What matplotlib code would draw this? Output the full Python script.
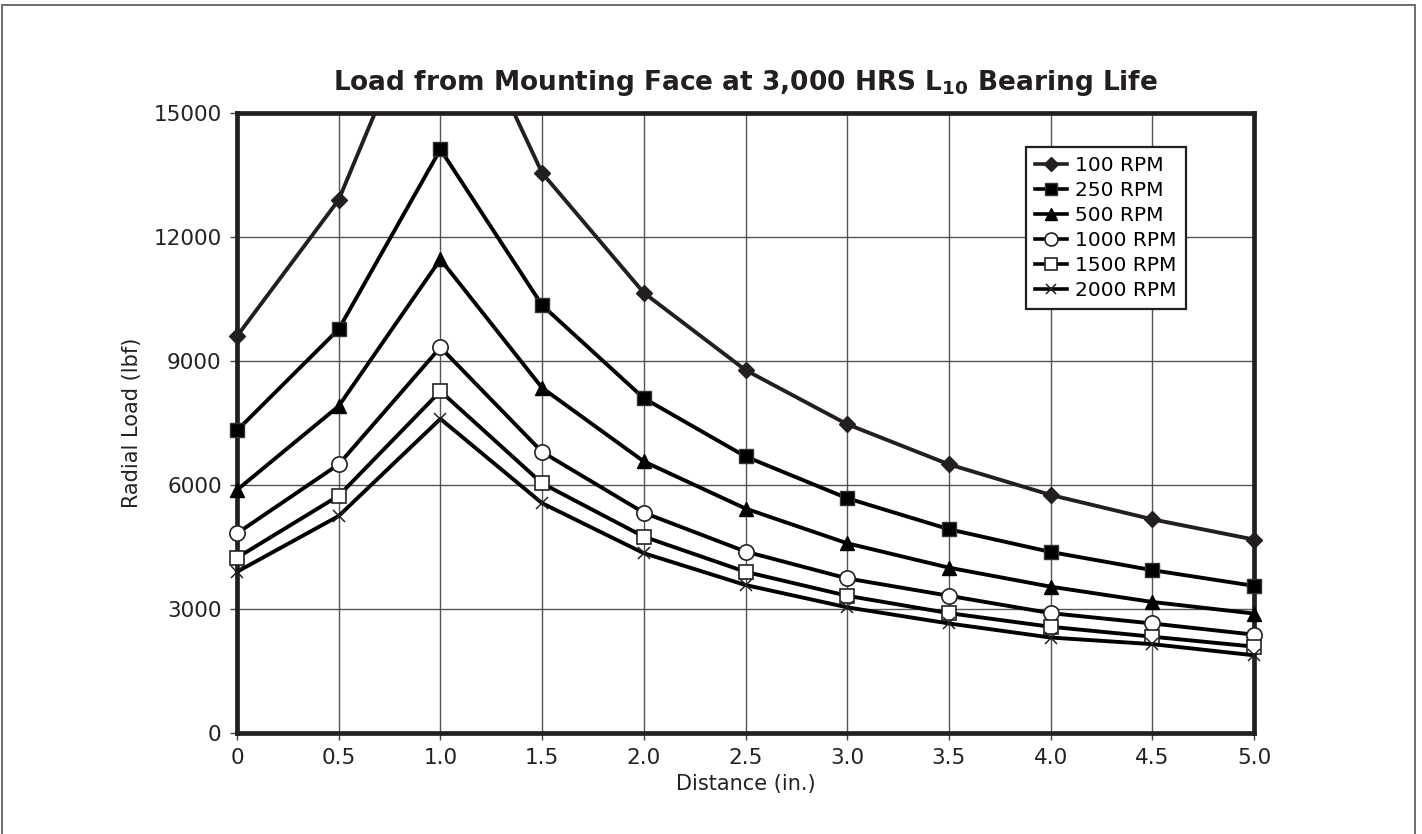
import matplotlib.pyplot as plt
from matplotlib.patches import Rectangle

# Data
distance = [0, 0.5, 1.0, 1.5, 2.0, 2.5, 3.0, 3.5, 4.0, 4.5, 5.0]
rpm_100 = [9600, 12900, 18800, 13550, 10650, 8780, 7470, 6500, 5760, 5170, 4680]
rpm_250 = [7320, 9770, 14120, 10350, 8100, 6690, 5680, 4930, 4380, 3940, 3560]
rpm_500 = [5880, 7910, 11460, 8350, 6570, 5430, 4590, 4000, 3540, 3170, 2890]
rpm_1000 = [4830, 6500, 9330, 6800, 5330, 4390, 3740, 3320, 2900, 2650, 2380]
rpm_1500 = [4240, 5740, 8270, 6040, 4750, 3900, 3320, 2900, 2570, 2330, 2090]
rpm_2000 = [3900, 5250, 7600, 5560, 4350, 3580, 3040, 2650, 2310, 2150, 1880]

labels = ['100 RPM', '250 RPM', '500 RPM', '1000 RPM', '1500 RPM', '2000 RPM']
x_ticks = [0, 0.5, 1.0, 1.5, 2.0, 2.5, 3.0, 3.5, 4.0, 4.5, 5.0]
x_ticklabels = ['0', '0.5', '1.0', '1.5', '2.0', '2.5', '3.0', '3.5', '4.0', '4.5', '5.0']
y_ticks = [0, 3000, 6000, 9000, 12000, 15000]

plt.rcParams['font.family'] = ['DejaVu Sans']
plt.rcParams['mathtext.fontset'] = 'dejavusans'

fig = plt.figure(figsize=(14.22, 8.34), dpi=100)
ax = fig.add_axes([237 / 1422, 101 / 834, 1017 / 1422, 620 / 834])

# outer frame around the whole picture
frame = Rectangle((2 / 1422, -0.01), 1413 / 1422, 1.0 - 5 / 834 + 0.01,
                  transform=fig.transFigure, fill=False, edgecolor='#555555',
                  linewidth=1.2)
fig.patches.append(frame)

series = [rpm_100, rpm_250, rpm_500, rpm_1000, rpm_1500, rpm_2000]
styles = [
    dict(marker='D', markersize=8, markerfacecolor='#231f20', markeredgecolor='#231f20'),
    dict(marker='s', markersize=10.5, markerfacecolor='black', markeredgecolor='#333333'),
    dict(marker='^', markersize=10, markerfacecolor='black', markeredgecolor='black'),
    dict(marker='o', markersize=11, markerfacecolor='white', markeredgecolor='#222222', markeredgewidth=1.2),
    dict(marker='s', markersize=10.5, markerfacecolor='white', markeredgecolor='#222222', markeredgewidth=1.2),
    dict(marker='x', markersize=9, markeredgecolor='#222222', markeredgewidth=1.1),
]
line_colors = ['#231f20', 'black', 'black', 'black', 'black', 'black']

# clip vertically to the axes, but let markers at the edges spill over sideways
clip = Rectangle((-0.05, 0), 1.1, 1.0, transform=ax.transAxes)
for vals, lab, st, c in zip(series, labels, styles, line_colors):
    ln, = ax.plot(distance, vals, color=c, linewidth=2.8, label=lab, zorder=3, **st)
    ln.set_clip_path(clip)

ax.set_xlim(0, 5.0)
ax.set_ylim(0, 15000)
ax.set_xticks(x_ticks)
ax.set_xticklabels(x_ticklabels)
ax.set_yticks(y_ticks)
ax.tick_params(labelsize=15.5, length=5, width=1, color='#444444', pad=6,
               labelcolor='#222222')
ax.grid(True, color='#555555', linewidth=1.0)
ax.set_axisbelow(True)
for s in ax.spines.values():
    s.set_linewidth(3.4)
    s.set_color('#231f20')

ax.set_xlabel('Distance (in.)', fontsize=15, color='#222222', labelpad=4)
ax.set_ylabel('Radial Load (lbf)', fontsize=15, color='#222222', labelpad=8)

fig.text(0.5245, 0.90,
         r'Load from Mounting Face at 3,000 HRS L$_{\mathbf{10}}$ Bearing Life',
         ha='center', va='center', fontsize=19, fontweight='bold', color='#231f20')

leg = ax.legend(loc='upper right', bbox_to_anchor=(0.933, 0.945), fontsize=14.5,
                frameon=True, fancybox=False, edgecolor='#231f20', framealpha=1,
                handlelength=1.6, labelspacing=0.3, borderpad=0.45,
                handletextpad=0.4, borderaxespad=0)
leg.get_frame().set_linewidth(1.6)
for h in leg.legend_handles:
    h.set_linewidth(2.6)
    h.set_markersize(h.get_markersize() * 0.85)

fig.savefig('out.png', dpi=100)
